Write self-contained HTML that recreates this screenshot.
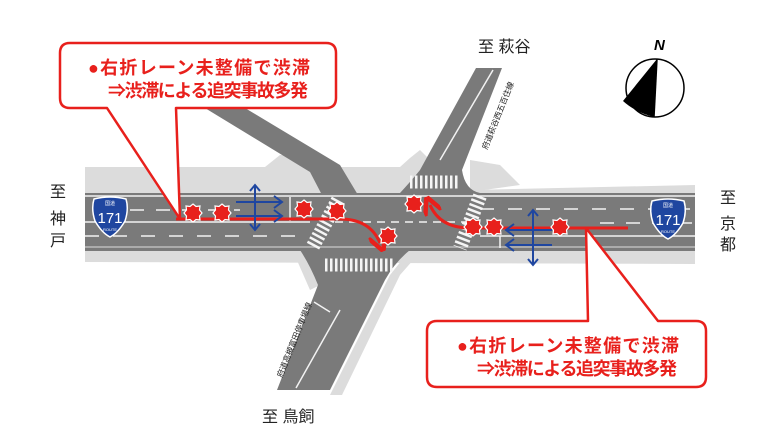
<!DOCTYPE html>
<html><head><meta charset="utf-8"><style>
html,body{margin:0;padding:0;background:#fff;}
svg{display:block;}
text{font-family:"Liberation Sans","Noto Sans CJK JP",sans-serif;}
</style></head><body>
<svg width="780" height="440" viewBox="0 0 780 440" xmlns="http://www.w3.org/2000/svg">
<defs>
<g id="star"><polygon points="0,-9 3,-6.5 7,-7 6.5,-3 9,0 6.5,3 7,7 3,6.5 0,9 -3,6.5 -7,7 -6.5,3 -9,0 -6.5,-3 -7,-7 -3,-6.5" fill="#e8201c" stroke="#fff" stroke-width="1.2"/></g>
<g id="shield"><path d="M-16,-18 Q0,-22 16,-18 Q19,-8 15,4 Q8,16 0,20 Q-8,16 -15,4 Q-19,-8 -16,-18Z" fill="#1f46a0" stroke="#fff" stroke-width="1.5"/><text x="0" y="-12" font-size="5" fill="#fff" text-anchor="middle">国道</text><text x="0" y="6" font-size="15" fill="#fff" text-anchor="middle">171</text><text x="0" y="14" font-size="4" fill="#fff" text-anchor="middle">ROUTE</text></g>
<marker id="ra" markerWidth="6" markerHeight="6" refX="3" refY="3" orient="auto" markerUnits="strokeWidth"><path d="M0,0 L6,3 L0,6" fill="none" stroke="#e8201c" stroke-width="1.5"/></marker>
</defs>
<!-- light gray shoulders -->
<path d="M85,167 L265,167 L280,155 L300,155 L340,167 L400,167 L410,158 L420,150 L430,160 L470,190 L695,185 L695,264 L85,262 Z" fill="#dcdcdc"/>
<path d="M470,160 L500,165 L520,185 L470,192 Z" fill="#dcdcdc"/>
<path d="M410,250 L422,250 L400,275 L342,395 L330,395 L390,275 Z" fill="#dcdcdc"/>
<path d="M296,258 L310,258 L320,285 L310,290 Z" fill="#dcdcdc"/>
<!-- side road top-left -->
<polygon points="200,105 240,105 340,165 358,195 322,195 310,172" fill="#7a7a7a"/>
<!-- upper road -->
<path d="M476,68 L502,68 L462,170 Q465,190 480,193 L400,193 Q412,180 420,170 Z" fill="#7a7a7a"/>
<!-- lower road -->
<path d="M300,250 L410,250 Q395,262 385,280 L330,390 L277,390 L318,285 Q310,265 300,250 Z" fill="#7a7a7a"/>
<!-- main road -->
<rect x="85" y="193" width="610" height="58" fill="#7a7a7a"/>
<!-- lane lines -->
<g stroke="#f2f2f2" stroke-width="1.5" fill="none">
<line x1="85" y1="196" x2="695" y2="196"/>
<line x1="85" y1="222" x2="310" y2="222"/>
<line x1="480" y1="236" x2="695" y2="236"/>
<line x1="85" y1="247" x2="695" y2="247" stroke="#bbb"/>
<line x1="290" y1="197" x2="290" y2="221"/>
<line x1="500" y1="236" x2="500" y2="248"/>
<line x1="85" y1="236" x2="300" y2="236" stroke-dasharray="14,14"/>
<line x1="480" y1="209" x2="695" y2="209" stroke-dasharray="14,14"/>
<line x1="335" y1="222" x2="470" y2="222" stroke-dasharray="8,6"/>
<line x1="130" y1="210" x2="240" y2="210" stroke-dasharray="14,12"/>
<line x1="600" y1="223" x2="695" y2="223" stroke-dasharray="14,12"/>
<line x1="493" y1="70" x2="440" y2="160"/>
<line x1="296" y1="388" x2="340" y2="310"/>
<line x1="330" y1="312" x2="314" y2="302"/>
</g>
<!-- crosswalks -->
<g stroke="#f5f5f5" stroke-width="13" stroke-dasharray="2.5,2.5">
<line x1="410" y1="182" x2="460" y2="182"/>
<line x1="325" y1="265" x2="395" y2="265"/>
</g>
<g stroke="#f5f5f5" stroke-width="14" stroke-dasharray="2.5,2.5">
<line x1="338" y1="200" x2="312" y2="248"/>
<line x1="480" y1="196" x2="460" y2="248"/>
</g>
<text x="0" y="0" font-size="8" fill="#222" transform="translate(487,150) rotate(-68)">府道萩谷西五百住線</text>
<text x="0" y="0" font-size="8" fill="#222" transform="translate(282,378) rotate(-68)">府道高槻富田停車場線</text>
<use href="#shield" x="110" y="217"/>
<use href="#shield" x="668" y="219"/>
<!-- callout 1 -->
<path d="M70,43 L326,43 Q336,43 336,53 L336,98 Q336,108 326,108 L176,108 L180,219 L107,108 L70,108 Q60,108 60,98 L60,53 Q60,43 70,43 Z" fill="#fff" stroke="#e8201c" stroke-width="2.5" stroke-linejoin="round"/>
<text x="88" y="74" font-size="18" font-weight="bold" fill="#e8201c" textLength="222">●右折レーン未整備で渋滞</text>
<text x="108" y="97" font-size="18" font-weight="bold" fill="#e8201c" textLength="200">⇒渋滞による追突事故多発</text>
<!-- callout 2 -->
<path d="M437,321 L588,321 L586,228 L658,321 L696,321 Q706,321 706,331 L706,377 Q706,387 696,387 L437,387 Q427,387 427,377 L427,331 Q427,321 437,321 Z" fill="#fff" stroke="#e8201c" stroke-width="2.5" stroke-linejoin="round"/>
<text x="457" y="352" font-size="18" font-weight="bold" fill="#e8201c" textLength="222">●右折レーン未整備で渋滞</text>
<text x="477" y="375" font-size="18" font-weight="bold" fill="#e8201c" textLength="200">⇒渋滞による追突事故多発</text>
<!-- red routes -->
<path d="M176,219 L340,219 Q370,219 380,243" fill="none" stroke="#e8201c" stroke-width="3" marker-end="url(#ra)"/>
<path d="M628,228 L470,228 Q440,228 430,205" fill="none" stroke="#e8201c" stroke-width="3" marker-end="url(#ra)"/>
<!-- blue arrows -->
<g stroke="#1f46a0" stroke-width="2" fill="none">
<line x1="236" y1="202" x2="282" y2="202"/><path d="M274,196 L282,202 L274,208"/>
<line x1="236" y1="216" x2="282" y2="216"/><path d="M274,210 L282,216 L274,222"/>
<line x1="255" y1="185" x2="255" y2="230"/><path d="M250,191 L255,185 L260,191 M250,224 L255,230 L260,224"/>
<line x1="552" y1="230" x2="506" y2="230"/><path d="M514,224 L506,230 L514,236"/>
<line x1="552" y1="245" x2="506" y2="245"/><path d="M514,239 L506,245 L514,251"/>
<line x1="533" y1="210" x2="533" y2="265"/><path d="M528,216 L533,210 L538,216 M528,259 L533,265 L538,259"/>
</g>
<!-- stars -->
<use href="#star" x="193" y="213"/><use href="#star" x="222" y="213"/>
<use href="#star" x="304" y="209"/><use href="#star" x="337" y="211"/>
<use href="#star" x="388" y="236"/><use href="#star" x="414" y="204"/>
<use href="#star" x="473" y="227"/><use href="#star" x="494" y="227"/>
<use href="#star" x="560" y="227"/>
<!-- compass -->
<circle cx="655" cy="88" r="29" fill="#fff" stroke="#000" stroke-width="1.5"/>
<path d="M657,59 L654,117 Q635,112 623,101 Z" fill="#000"/>
<line x1="657" y1="59" x2="654" y2="117" stroke="#000" stroke-width="1.5"/>
<text x="654" y="50" font-size="15" font-style="italic" font-weight="bold">N</text>
<!-- place labels -->
<g font-size="16" fill="#222">
<text x="478" y="52">至 萩谷</text>
<text x="50" y="197">至</text><text x="50" y="224">神</text><text x="50" y="246">戸</text>
<text x="720" y="203">至</text><text x="720" y="229">京</text><text x="720" y="250">都</text>
<text x="262" y="422">至 鳥飼</text>
</g>
</svg>
</body></html>
